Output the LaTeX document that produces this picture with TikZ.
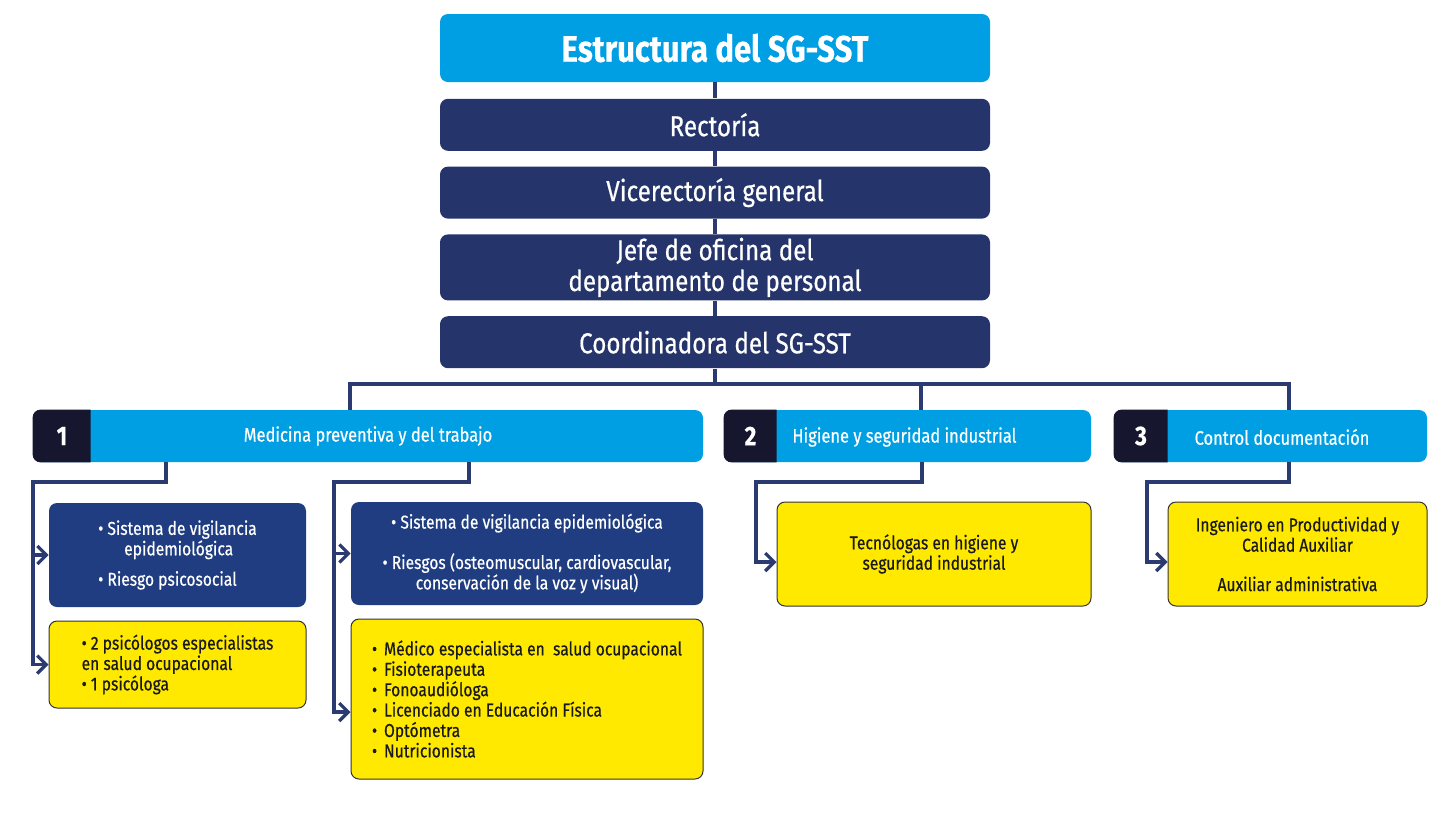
\documentclass[tikz,border=0pt]{standalone}
\usepackage{fontspec}
\setmainfont{Fira Sans}[FakeStretch=0.84, FakeBold=0.5]
\usetikzlibrary{positioning, arrows.meta}
\definecolor{cyanbar}{HTML}{009FE3}
\definecolor{navy}{HTML}{25346A}
\definecolor{royal}{HTML}{1F3D80}
\definecolor{numdark}{HTML}{16162E}
\definecolor{lemon}{HTML}{FFE900}
\definecolor{wire}{HTML}{2B3A70}

\begin{document}
\begin{tikzpicture}[x=0.5pt, y=-0.5pt,
    box/.style={rounded corners=4pt, inner sep=0pt, align=center},
    titlebox/.style={box, fill=cyanbar, text=white, minimum width=275pt, minimum height=34pt, font=\fontsize{18.5}{20}\selectfont\bfseries},
    navybox/.style={box, fill=navy, text=white, minimum width=275pt, minimum height=26pt, font=\fontsize{14.4}{15.4}\selectfont},
    headbox/.style={box, fill=cyanbar, text=white, minimum height=26pt, font=\fontsize{9.8}{10}\selectfont},
    headtxt/.style={text=white, inner sep=0pt, font=\fontsize{9.8}{10}\selectfont},
    numtxt/.style={text=white, inner sep=0pt, font=\fontsize{13.5}{15}\selectfont\bfseries},
    bluebox/.style={box, fill=royal, text=white, font=\fontsize{9.3}{10.2}\selectfont},
    yellowbox/.style={box, fill=lemon, draw=black!80, line width=0.5pt, text=black!90, font=\fontsize{9.3}{10.2}\selectfont},
    wireline/.style={draw=wire, line width=1.6pt},
    feed/.style={wireline, -{Straight Barb[length=4.5pt, width=9pt]}},
    node distance=7.5pt
]
    \useasboundingbox (0,0) rectangle (1441,826);

    % chain
    \node[titlebox] (est) at (715,48) {Estructura del SG-SST};
    \node[navybox, below=8pt of est] (rec) {Rectoría};
    \node[navybox, below=of rec] (vice) {Vicerectoría general};
    \node[navybox, below=of vice, minimum height=33pt] (jefe) {Jefe de oficina del\\departamento de personal};
    \node[navybox, below=of jefe] (coord) {Coordinadora del SG-SST};

    % areas
    \node[headbox, minimum width=335pt] (h1) at (368,436) {Medicina preventiva y del trabajo};
    \node[headbox, minimum width=183.5pt] (h2) at (907.5,436) {};
    \node[headbox, minimum width=156.5pt] (h3) at (1270.5,436) {};
    \begin{scope}
        \clip (h1.south west) rectangle ([xshift=29pt]h1.north west);
        \fill[numdark, rounded corners=4pt] (h1.south west) rectangle (h1.north east);
    \end{scope}
    \begin{scope}
        \clip (h2.south west) rectangle ([xshift=26.5pt]h2.north west);
        \fill[numdark, rounded corners=4pt] (h2.south west) rectangle (h2.north east);
    \end{scope}
    \begin{scope}
        \clip (h3.south west) rectangle ([xshift=27pt]h3.north west);
        \fill[numdark, rounded corners=4pt] (h3.south west) rectangle (h3.north east);
    \end{scope}
    \node[numtxt] (n1) at (62,436) {1};
    \node[numtxt] (n2) at (750.5,436) {2};
    \node[numtxt] (n3) at (1141,436) {3};
    \node[headtxt, anchor=west] (h2t) at (792,437) {Higiene y seguridad industrial};
    \node[headtxt] (h3t) at (1282,437) {Control documentación};

    % teams
    \node[bluebox, align=left, minimum width=128.5pt, minimum height=52pt] (a1) at (177.5,555)
        {• Sistema de vigilancia\\\hspace*{13pt}epidemiológica\\[5pt]• Riesgo psicosocial};
    \node[yellowbox, align=left, minimum width=128.5pt, minimum height=43.5pt] (b1) at (177.5,664.5)
        {• 2 psicólogos especialistas\\en salud ocupacional\\• 1 psicóloga};
    \node[bluebox, minimum width=176pt, minimum height=51.5pt] (c1) at (527,553.5)
        {• Sistema de vigilancia epidemiológica\\[10pt]• Riesgos (osteomuscular, cardiovascular,\\conservación de la voz y visual)};
    \node[yellowbox, align=left, minimum width=176pt, minimum height=80pt] (d1) at (527,699)
        {\makebox[6pt][l]{•}Médico especialista en\ \ salud ocupacional\\
         \makebox[6pt][l]{•}Fisioterapeuta\\
         \makebox[6pt][l]{•}Fonoaudióloga\\
         \makebox[6pt][l]{•}Licenciado en Educación Física\\
         \makebox[6pt][l]{•}Optómetra\\
         \makebox[6pt][l]{•}Nutricionista};
    \node[yellowbox, minimum width=157pt, minimum height=52pt] (e1) at (934,554)
        {Tecnólogas en higiene y\\seguridad industrial};
    \node[yellowbox, minimum width=129.5pt, minimum height=52pt] (f1) at (1297.5,554)
        {Ingeniero en Productividad y\\Calidad Auxiliar\\[9.5pt]Auxiliar administrativa};

    % wires
    \draw[wireline] (est) -- (rec);
    \draw[wireline] (rec) -- (vice);
    \draw[wireline] (vice) -- (jefe);
    \draw[wireline] (jefe) -- (coord);
    \coordinate (bus1) at (350,384);
    \coordinate (bus2) at (921,384);
    \coordinate (bus3) at (1289,384);
    \draw[wireline] (coord.south) -- (coord.south |- bus1);
    \draw[wireline] (h1.north -| bus1) -- (bus1) -- (bus3) -- (h3.north -| bus3);
    \draw[wireline] (bus2) -- (h2.north -| bus2);

    \coordinate (k1) at (166,482);
    \coordinate (l1) at (33,482);
    \coordinate (k2) at (469,482);
    \coordinate (l2) at (334,482);
    \coordinate (k3) at (922,482);
    \coordinate (l3) at (756,482);
    \coordinate (k4) at (1289,482);
    \coordinate (l4) at (1147,482);
    \draw[feed] (h1.south -| k1) |- (l1) |- (a1.west);
    \draw[feed] (l1) |- (b1.west);
    \draw[feed] (h1.south -| k2) |- (l2) |- (c1.west);
    \draw[feed] (l2) |- ([yshift=-6.5pt]d1.west);
    \draw[feed] (h2.south -| k3) |- (l3) |- ([yshift=-4pt]e1.west);
    \draw[feed] (h3.south -| k4) |- (l4) |- ([yshift=-4pt]f1.west);
\end{tikzpicture}
\end{document}
